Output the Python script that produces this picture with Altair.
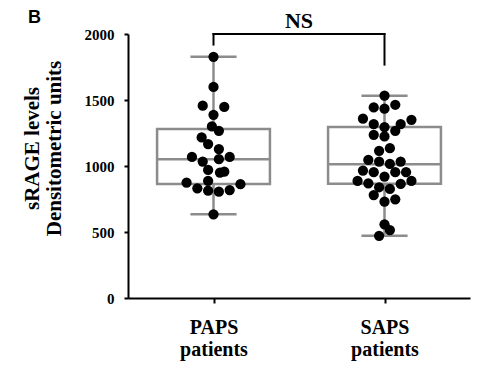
import altair as alt
import pandas as pd

# Groups and their positions on the x axis
groups = ["PAPS", "SAPS"]
group_pos = [1, 2]

# Individual sRAGE measurements and their beeswarm offsets (in dot widths)
paps_values = [1827, 1599, 1457, 1447, 1388, 1300, 1267, 1216, 1166, 1128,
               1069, 1069, 1034, 1052, 970, 950, 957, 887, 874, 862,
               831, 813, 805, 818, 634]
paps_offsets = [0, 0, -1, 1, 0, -0.15, 0.5, -1.1, -0.5, 0.5,
                -2, 1.5, -1, 0.5, -0.5, 0.6, 1.0, -0.5, -2.5, 2.5,
                -1.5, -0.5, 0.5, 1.5, 0]

saps_values = [1533, 1444, 1434, 1464, 1358, 1350, 1318, 1295, 1318, 1267,
               1236, 1224, 1115, 1135, 1046, 1034, 1016, 1034, 965, 953,
               920, 953, 953, 887, 869, 839, 826, 864, 887, 780,
               730, 748, 558, 515, 471]
saps_offsets = [0, -1, 0, 1, -2, 2.5, -1, 0, 1.5, 1,
                -1, 0, -0.5, 0.5, -1.5, -0.5, 0.5, 1.5, -2, -1,
                0, 1, 2, -2.5, -1.5, -0.5, 0.5, 1.5, 2.5, -1,
                0, 1, 0, 0.5, -0.5]

# Box-plot summary per group
q1 = [864, 866]
median = [1052, 1014]
q3 = [1280, 1295]
whisker_lo = [634, 471]
whisker_hi = [1827, 1533]

# Significance bracket
ns_text = "NS"
bracket_top = 2000
bracket_leg_ends = [1920, 1768]

y_ticks = [0, 500, 1000, 1500, 2000]

points = pd.DataFrame({
    "group": ["PAPS"] * len(paps_values) + ["SAPS"] * len(saps_values),
    "pos": [1] * len(paps_values) + [2] * len(saps_values),
    "value": paps_values + saps_values,
    "offset": paps_offsets + saps_offsets,
})

boxes = pd.DataFrame({
    "group": groups, "pos": group_pos, "q1": q1, "median": median, "q3": q3,
    "lo": whisker_lo, "hi": whisker_hi,
})

bracket = pd.DataFrame({
    "pos": group_pos, "top": [bracket_top] * 2, "leg_end": bracket_leg_ends,
})

GRAY = "#8c8c8c"
SERIF = "Liberation Serif"
DOT = 0.063       # one dot width in x-data units
HALF_BOX = 0.33
HALF_CAP = 0.135

xscale = alt.Scale(domain=[0.5, 2.5], nice=False, zero=False)
yscale = alt.Scale(domain=[0, 2000], nice=False, zero=False)

label_expr = "datum.value == 1 ? ['PAPS', 'patients'] : ['SAPS', 'patients']"

x_axis = alt.Axis(
    values=group_pos, labelExpr=label_expr, title=None, grid=False,
    tickSize=5, tickWidth=2, tickColor="black",
    domainColor="black", domainWidth=2,
    labelFont=SERIF, labelFontWeight="bold", labelFontSize=20,
    labelColor="black", labelPadding=14, labelLineHeight=22,
)
y_axis = alt.Axis(
    values=y_ticks, grid=False, format="d",
    tickSize=4, tickWidth=2, tickColor="black",
    domainColor="black", domainWidth=2,
    labelFont=SERIF, labelFontWeight="bold", labelFontSize=15,
    labelColor="black", labelPadding=10,
    title=["sRAGE levels", "Densitometric units"],
    titleFont=SERIF, titleFontWeight="bold", titleFontSize=21,
    titleColor="black", titleLineHeight=22,
    titleX=-86, titleY=114, titleAngle=270,
)

base_box = alt.Chart(boxes).transform_calculate(
    xl=f"datum.pos - {HALF_BOX}", xr=f"datum.pos + {HALF_BOX}",
    cl=f"datum.pos - {HALF_CAP}", cr=f"datum.pos + {HALF_CAP}",
)

box = base_box.mark_rect(fill="white", stroke=GRAY, strokeWidth=2.5).encode(
    x=alt.X("xl:Q", scale=xscale, axis=x_axis),
    x2="xr:Q",
    y=alt.Y("q1:Q", scale=yscale, axis=y_axis),
    y2="q3:Q",
)
med = base_box.mark_rule(color=GRAY, strokeWidth=2.5).encode(
    x="xl:Q", x2="xr:Q", y="median:Q")
whisk_up = base_box.mark_rule(color=GRAY, strokeWidth=2.5).encode(
    x="pos:Q", y="q3:Q", y2="hi:Q")
whisk_dn = base_box.mark_rule(color=GRAY, strokeWidth=2.5).encode(
    x="pos:Q", y="lo:Q", y2="q1:Q")
cap_up = base_box.mark_rule(color=GRAY, strokeWidth=2.5).encode(
    x="cl:Q", x2="cr:Q", y="hi:Q")
cap_dn = base_box.mark_rule(color=GRAY, strokeWidth=2.5).encode(
    x="cl:Q", x2="cr:Q", y="lo:Q")

dots = alt.Chart(points).transform_calculate(
    xp=f"datum.pos + datum.offset * {DOT}"
).mark_circle(color="black", opacity=1, size=105).encode(
    x="xp:Q", y="value:Q")

bracket_h = alt.Chart(bracket).transform_aggregate(
    x_min="min(pos)", x_max="max(pos)", top="max(top)"
).mark_rule(color="black", strokeWidth=2, strokeCap="square").encode(
    x="x_min:Q", x2="x_max:Q", y="top:Q")
bracket_legs = alt.Chart(bracket).mark_rule(
    color="black", strokeWidth=2, strokeCap="square").encode(
    x="pos:Q", y="leg_end:Q", y2="top:Q")

ns = alt.Chart(bracket).transform_aggregate(
    mid="mean(pos)", top="max(top)"
).transform_calculate(label=f"'{ns_text}'").mark_text(
    font=SERIF, fontWeight="bold", fontSize=22, color="black",
    baseline="bottom", dy=-1,
).encode(x="mid:Q", y="top:Q", text="label:N")

panel = alt.Chart(pd.DataFrame({"panel": ["B"]})).mark_text(
    font="Liberation Sans", fontWeight="bold", fontSize=18, color="black",
    align="left", baseline="alphabetic",
).encode(x=alt.value(-100), y=alt.value(-11), text="panel:N")

chart = alt.layer(
    box, whisk_up, whisk_dn, cap_up, cap_dn, med,
    dots, bracket_h, bracket_legs, ns, panel,
).properties(
    width=342, height=264,
    autosize=alt.AutoSizeParams(type="none"),
    padding={"left": 128, "top": 34, "right": 9, "bottom": 67},
    background="white",
).configure_view(stroke=None)

chart.save("out.html", embed_options={"renderer": "svg", "actions": False})
